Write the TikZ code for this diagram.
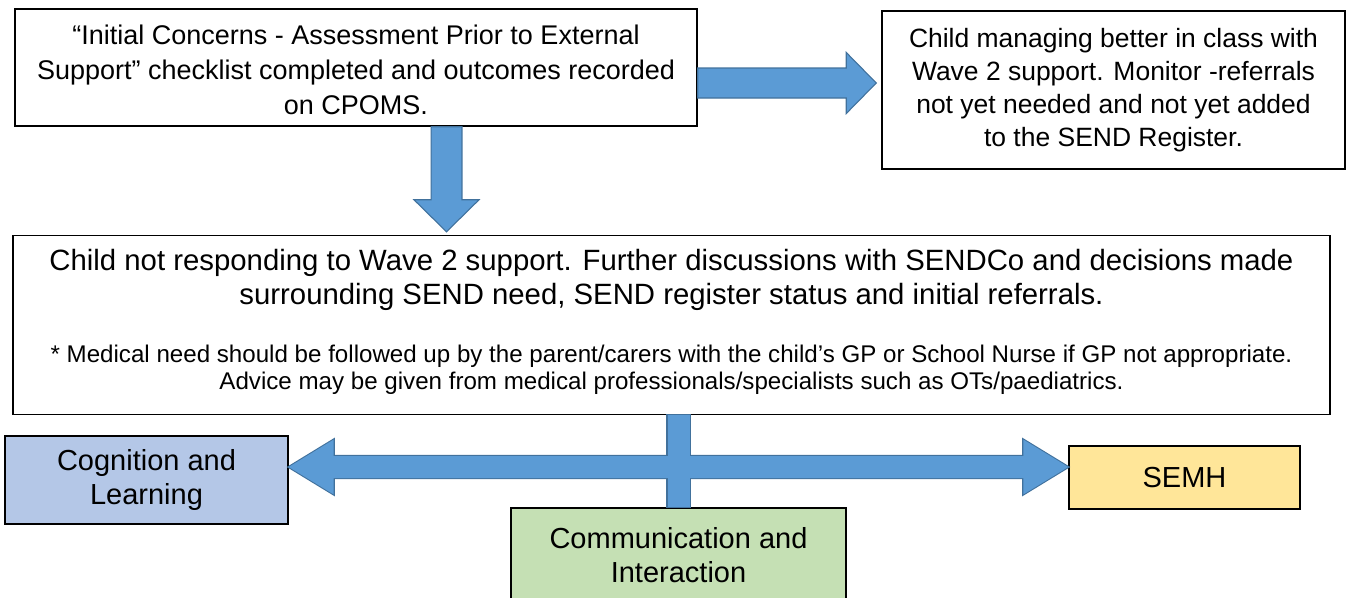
\documentclass[tikz,border=0pt]{standalone}
\usepackage{fontspec}
\setmainfont{Liberation Sans}
\usetikzlibrary{calc}

\definecolor{arrowfill}{HTML}{5B9BD5}
\definecolor{arrowline}{HTML}{41719C}
\definecolor{cogfill}{HTML}{B4C7E7}
\definecolor{commfill}{HTML}{C5E0B4}
\definecolor{semhfill}{HTML}{FFE699}

\tikzset{
  box/.style={draw, line width=1.1pt, inner sep=0pt, align=center},
  toptext/.style={font=\fontsize{20.25}{26.25}\selectfont},
  sidetext/.style={font=\fontsize{19.85}{24.75}\selectfont},
  maintext/.style={font=\fontsize{22}{25.5}\selectfont, align=center},
  notetext/.style={font=\fontsize{18.1}{20.25}\selectfont, align=center},
  areatext/.style={font=\fontsize{21.75}{26}\selectfont},
  arrowbody/.style={fill=arrowfill, draw=arrowline, line width=0.8pt},
  arrowedge/.style={draw=arrowline, line width=1.6pt},
  arrowfillonly/.style={fill=arrowfill}
}

% block arrow: [style] tail, tip, shaft half width, head half width, head length
\newcommand{\blockarrow}[6][arrowbody]{%
  \coordinate (ba-t) at (#2);
  \coordinate (ba-p) at (#3);
  \coordinate (ba-h) at ($(ba-p)!#6!(ba-t)$);
  \path[#1] ($(ba-t)!#4!90:(ba-p)$) -- ($(ba-h)!#4!90:(ba-p)$) -- ($(ba-h)!#5!90:(ba-p)$)
    -- (ba-p) -- ($(ba-h)!#5!-90:(ba-p)$) -- ($(ba-h)!#4!-90:(ba-p)$)
    -- ($(ba-t)!#4!-90:(ba-p)$) -- cycle;}

\begin{document}
\begin{tikzpicture}[x=0.75pt, y=-0.75pt]

  \useasboundingbox (0,0) rectangle (1357,597);
  \clip (0,0) rectangle (1357,597);

  % boxes
  \node[box, minimum width=511.5pt, minimum height=87.75pt] (concerns) at (356,67.5) {};
  \node[toptext, align=center] (concernsTxt) at (356,69.5)
    {“Initial Concerns - Assessment Prior to External\\Support” checklist completed and outcomes recorded\\on CPOMS.};
  \node[box, sidetext, minimum width=347.25pt, minimum height=118.5pt] (managing) at (1113.5,90)
    {Child managing better in class with\\Wave 2 support. Monitor -referrals\\not yet needed and not yet added\\to the SEND Register.};
  \node[box, minimum width=987.75pt, minimum height=134.25pt] (main) at (671.5,325) {};
  \node[maintext] (mainTxt) at (671.5,280)
    {Child not responding to Wave 2 support. Further discussions with SENDCo and decisions made\\surrounding SEND need, SEND register status and initial referrals.};
  \node[notetext] (note) at (671.5,369.5)
    {* Medical need should be followed up by the parent/carers with the child’s GP or School Nurse if GP not appropriate.\\Advice may be given from medical professionals/specialists such as OTs/paediatrics.};

  \node[box, areatext, fill=cogfill, minimum width=212.25pt, minimum height=66pt] (cog) at (146.5,480)
    {Cognition and\\Learning};
  \node[box, areatext, fill=commfill, minimum width=251.25pt, minimum height=70.5pt] (comm) at (678.5,555)
    {Communication and\\Interaction};
  \node[box, areatext, fill=semhfill, minimum width=173.25pt, minimum height=47.25pt] (semh) at (1184.5,477.5)
    {SEMH};

  % rows and columns of the block arrows
  \coordinate (rowA) at (0,83);
  \coordinate (colA) at (446.5,0);
  \coordinate (rowB) at (0,467);

  % top arrows
  \blockarrow{concerns.east |- rowA}{$(managing.west |- rowA)+(-5,0)$}{11.25pt}{22.9pt}{22.5pt}
  \blockarrow{colA |- concerns.south}{$(colA |- main.north)+(0,-3)$}{11.6pt}{24.4pt}{24pt}

  % branching to the three areas
  \coordinate (cross) at (comm.north |- rowB);
  \path[arrowedge] ($(comm.north |- main.south)+(-11,0)$) rectangle ($(comm.north)+(11,0)$);
  \blockarrow[arrowedge]{cross}{cog.east |- rowB}{8.25pt}{20.6pt}{33.75pt}
  \blockarrow[arrowedge]{cross}{semh.west |- rowB}{8.25pt}{20.6pt}{33.75pt}
  \path[arrowfillonly] ($(comm.north |- main.south)+(-11,0)$) rectangle ($(comm.north)+(11,0)$);
  \blockarrow[arrowfillonly]{cross}{cog.east |- rowB}{8.25pt}{20.6pt}{33.75pt}
  \blockarrow[arrowfillonly]{cross}{semh.west |- rowB}{8.25pt}{20.6pt}{33.75pt}

\end{tikzpicture}
\end{document}
